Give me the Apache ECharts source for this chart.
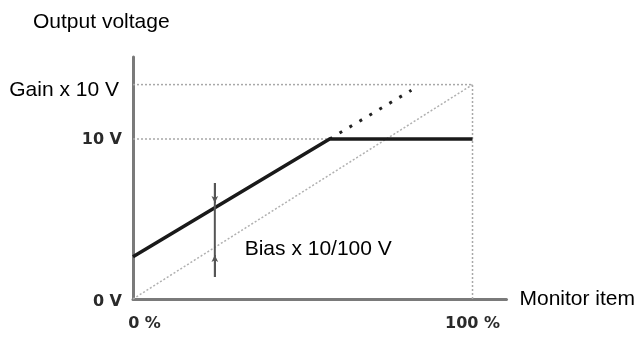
<!DOCTYPE html>
<html>
<head>
<meta charset="utf-8">
<script src="https://cdn.jsdelivr.net/npm/echarts@6/dist/echarts.min.js"></script>
<style>
html,body{margin:0;padding:0;background:#fff;}
#chart{width:638px;height:337px;}
</style>
</head>
<body>
<div id="chart"></div>
<script>
// ---- data (axis units: x = % of monitor item, y = volts) ----
const xTicks = [0, 100];
const xTickLabels = ['0 %', '100 %'];
const yTicks = [0, 10, 13.4];
const yTickLabels = ['0 V', '10 V', 'Gain x 10 V'];
const outputLine = [[0, 2.64], [57.9, 10], [100, 10]];
const outputExtension = [[57.9, 10], [82, 13.05]];
const referenceLine = [[0, 0], [100, 13.4]];
const gainGuide = [[0, 13.4], [100, 13.4]];
const tenVoltGuide = [[0, 10], [57.9, 10]];
const fullScaleGuide = [[100, 0], [100, 13.4]];
const biasArrowX = 24.1;
const biasSpan = [7.25, 1.375];
const biasTips = [6.0, 2.75];
const biasLabelAt = [[32.9, 3.1]];
const biasLabelText = 'Bias x 10/100 V';
const titleText = 'Output voltage';
const xName = 'Monitor item';

const chart = echarts.init(document.getElementById('chart'), null, {renderer: 'canvas'});

const tickFont = {fontFamily: 'DejaVu Sans', fontWeight: 'bold', fontSize: 16, color: '#2a2a2a'};
const textFont = {fontFamily: 'Liberation Sans', fontWeight: 'normal', fontSize: 21, color: '#000'};

const guideStyle = {color: '#a8a8a8', width: 1.5, type: [2, 2]};

function lineSeries(data, style) {
  return {type: 'line', data: data, showSymbol: false, symbol: 'none', silent: true,
          lineStyle: style, z: style.z || 2};
}

const option = {
  animation: false,
  title: {text: titleText, left: 33, top: 12, padding: 0,
          textStyle: {fontFamily: 'Liberation Sans', fontSize: 21, fontWeight: 'normal', color: '#000'}},
  grid: {left: 133, right: 131, top: 57, bottom: 38},
  xAxis: {
    type: 'value', min: 0, max: 110,
    name: xName, nameLocation: 'end', nameGap: 13,
    nameTextStyle: Object.assign({}, textFont, {verticalAlign: 'middle'}),
    axisLine: {lineStyle: {color: '#7a7a7a', width: 3}},
    axisTick: {show: false},
    splitLine: {show: false},
    axisLabel: {
      customValues: xTicks,
      margin: 17,
      formatter: function (v) {
        const i = xTicks.indexOf(v);
        if (i < 0) return '';
        return (i === 0 ? '{a|' : '{b|') + xTickLabels[i] + '}';
      },
      rich: {
        a: Object.assign({}, tickFont, {padding: [0, 0, 0, 23]}),
        b: Object.assign({}, tickFont, {padding: [0, 0, 0, 0]})
      }
    }
  },
  yAxis: {
    type: 'value', min: 0, max: 15.125,
    axisLine: {lineStyle: {color: '#7a7a7a', width: 3}},
    axisTick: {show: false},
    splitLine: {show: false},
    axisLabel: {
      customValues: yTicks,
      margin: 11,
      formatter: function (v) {
        const i = yTicks.indexOf(v);
        if (i < 0) return '';
        return ['{z|', '{t|', '{g|'][i] + yTickLabels[i] + '}';
      },
      rich: {
        z: Object.assign({}, tickFont, {padding: [5, 0, 0, 0]}),
        t: Object.assign({}, tickFont, {padding: [2, 0, 0, 0]}),
        g: Object.assign({}, textFont, {padding: [12, 3, 0, 0]})
      }
    }
  },
  series: [
    lineSeries(gainGuide, guideStyle),
    lineSeries(tenVoltGuide, guideStyle),
    lineSeries(fullScaleGuide, guideStyle),
    lineSeries(referenceLine, {color: '#b0b0b0', width: 1.5, type: [2, 2]}),
    lineSeries(outputExtension, {color: '#222', width: 3, type: [3, 8.6], cap: 'butt', z: 3}),
    lineSeries(outputLine, {color: '#1a1a1a', width: 3.5, z: 4}),
    Object.assign(lineSeries([[biasArrowX, biasSpan[0]], [biasArrowX, biasSpan[1]]],
      {color: '#555', width: 2, z: 5}), {
      markLine: {
        silent: true, symbol: ['none', 'arrow'], symbolSize: [5, 7],
        label: {show: false},
        lineStyle: {color: '#555', width: 2, type: 'solid'},
        data: [
          [{coord: [biasArrowX, biasSpan[0]]}, {coord: [biasArrowX, biasTips[0]]}],
          [{coord: [biasArrowX, biasSpan[1]]}, {coord: [biasArrowX, biasTips[1]]}]
        ]
      }
    }),
    {
      type: 'scatter', data: biasLabelAt, symbolSize: 0, silent: true,
      itemStyle: {color: '#000', opacity: 1},
      label: {show: true, position: 'right', distance: 0, opacity: 1,
              formatter: function () { return biasLabelText; },
              fontFamily: 'Liberation Sans', fontSize: 21, color: '#000'},
      z: 6
    }
  ]
};
chart.setOption(option);
</script>
</body>
</html>
